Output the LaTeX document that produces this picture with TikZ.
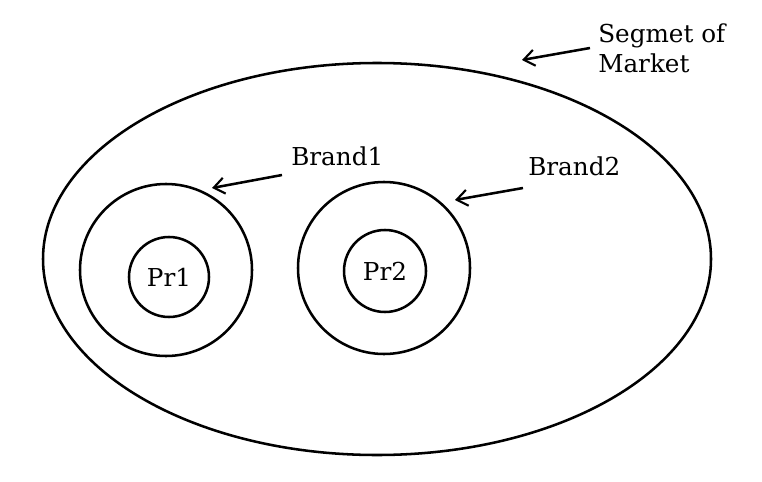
\documentclass[tikz,border=0pt]{standalone}
\usepackage{fontspec}
\setmainfont{DejaVu Serif}
\usepackage{tikz}
\usetikzlibrary{arrows.meta,positioning,shapes.geometric}

\begin{document}
\begin{tikzpicture}[x=0.75pt,y=-0.75pt,line width=1.9pt,
  >={Straight Barb[length=8pt,width=12pt,line width=1.6pt]},
  every node/.style={font=\fontsize{18.5}{22.5}\selectfont},
  ring/.style={draw,circle,inner sep=0pt,minimum size=#1*0.75pt},
  lbl/.style={inner sep=0pt,align=left}]
\useasboundingbox (0,0) rectangle (762,481);
\node[draw,ellipse,inner sep=0pt,minimum width=501pt,minimum height=294pt] (segment) at (377,259) {};
\node[ring=172] (brandA) at (166,270) {};
\node[ring=172] (brandB) at (384,268) {};
\node[ring=80] (prA) at (169,277) {Pr1};
\node[ring=82] (prB) at (385,271) {Pr2};
\node[lbl,anchor=base west] (segtxt) at (597,73) {Segmet of\\Market};
\node[lbl,anchor=base west] (brAtxt) at (290,165) {Brand1};
\node[lbl,anchor=base west] (brBtxt) at (527,175) {Brand2};
% arrow ends
\coordinate (segtail) at (590,48);
\coordinate (segtip) at (522,60);
\coordinate (brAtail) at (282,175);
\coordinate (brAtip) at (212,188);
\coordinate (brBtail) at (523,188);
\coordinate (brBtip) at (455,200);
\draw[->] (segtail) -- (segtip);
\draw[->] (brAtail) -- (brAtip);
\draw[->] (brBtail) -- (brBtip);
\end{tikzpicture}
\end{document}
